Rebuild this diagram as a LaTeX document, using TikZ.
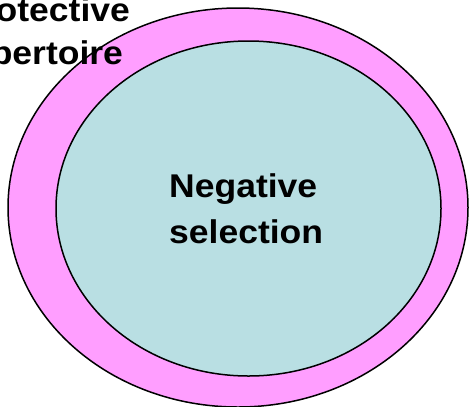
\documentclass[tikz,border=0pt]{standalone}
\usepackage{fontspec}
\setmainfont{Liberation Sans}
\definecolor{pinkfill}{RGB}{255,158,255}
\definecolor{tealfill}{RGB}{185,223,227}
\tikzset{
  ring/.style={draw=black, line width=1.5bp},
  lbl/.style={inner sep=0pt, anchor=base west, font=\fontsize{33}{40}\bfseries\selectfont}
}
\newcommand{\wide}[1]{\scalebox{1.08}[1]{#1}}
\begin{document}
\begin{tikzpicture}[x=1bp, y=-1bp]
\useasboundingbox (0,0) rectangle (469,406);
\clip (0,0) rectangle (469,406);
\path[ring, fill=pinkfill] (238,207.5) ellipse [x radius=230, y radius=199.5];
\path[ring, fill=tealfill] (248.5,208.5) ellipse [x radius=192.5, y radius=167.5];
\node[lbl] (neg1) at (169,197) {\wide{Negative}};
\node[lbl] (neg2) at (169,243) {\wide{selection}};
\node[lbl] (pro1) at (-42,21) {\wide{Protective}};
\node[lbl] (pro2) at (-43,64) {\wide{repertoire}};
\end{tikzpicture}
\end{document}
